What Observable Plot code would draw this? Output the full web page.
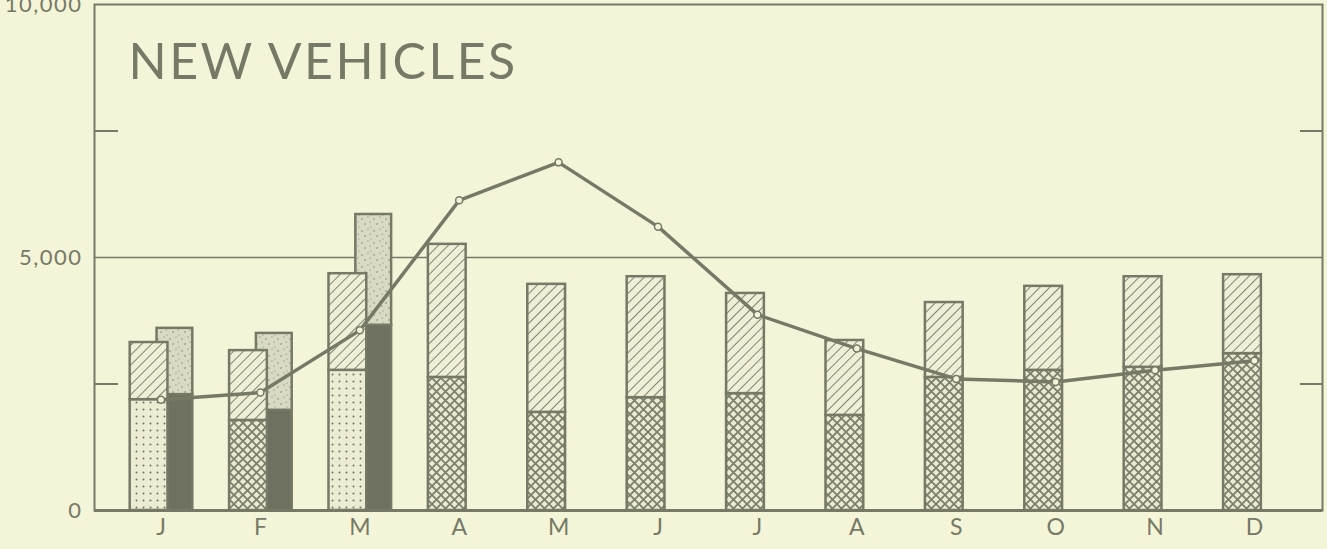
<!DOCTYPE html>
<html><head><meta charset="utf-8">
<script src="https://cdn.jsdelivr.net/npm/d3@7"></script>
<script src="https://cdn.jsdelivr.net/npm/@observablehq/plot@0.6"></script>
<style>
html,body{margin:0;padding:0;background:#f4f5d8;overflow:hidden}
#chart svg{display:block}
g[aria-label="y-axis tick label"] text{letter-spacing:1.5px}
</style></head><body><div id="chart"></div>
<script>
// ---- data ----
const months = ["J","F","M","A","M","J","J","A","S","O","N","D"];
// main (left / single) bar: total height and lower segment
const totalA = [3320,3160,4680,5260,4470,4620,4290,3360,4110,4430,4620,4660];
const baseA  = [2190,1780,2770,2630,1940,2230,2310,1880,2630,2770,2830,3100];
const baseKind = ["dotted","crosshatch","dotted","crosshatch","crosshatch","crosshatch","crosshatch","crosshatch","crosshatch","crosshatch","crosshatch","crosshatch"];
// second bar (J, F, M only)
const totalB = [3600,3500,5850];
const baseB  = [2290,1980,3660];
// line series
const lineVals = [2190,2330,3560,6130,6880,5610,3870,3200,2600,2540,2770,2960];
const yTicks = [0,5000,10000];
const minorTicks = [2500,7500];
const title = "NEW VEHICLES";

// ---- layout ----
const W=1327,H=549,mL=94,mR=5,mT=4,mB=39;
const plotW=W-mL-mR;
const ink="#767966", bg="#f4f5d8";
const idx = months.map((_,i)=>i);
const barOff=-0.12, barHalf=0.19, bOff=0.14, bHalf=0.18;
const single = idx.map(i=>({x1:i+barOff-barHalf, x2:i+barOff+barHalf, base:baseA[i], total:totalA[i], kind:baseKind[i]}));
const pair = totalB.map((t,i)=>({x1:i+bOff-bHalf, x2:i+bOff+bHalf, base:baseB[i], total:t}));
const fills = {dotted:"url(#dots)", crosshatch:"url(#cross)"};

const chart = Plot.plot({
  width:W, height:H, marginLeft:mL, marginRight:mR, marginTop:mT, marginBottom:mB,
  style:{background:bg, color:ink, fontFamily:"Lato, sans-serif", overflow:"visible"},
  x:{domain:[-0.669,11.685], axis:null},
  y:{domain:[0,10000], axis:null},
  color:{type:"identity"},
  marks:[
    Plot.ruleY([5000], {stroke:ink, strokeWidth:1.5}),
    Plot.tickY(minorTicks, {y:d=>d, insetRight:plotW-24, stroke:ink, strokeWidth:2}),
    Plot.tickY(minorTicks, {y:d=>d, insetLeft:plotW-22, stroke:ink, strokeWidth:2}),
    Plot.rectY(pair, {x1:"x1", x2:"x2", y1:0, y2:"base", fill:"#6e7160", stroke:ink, strokeWidth:2.5}),
    Plot.rectY(pair, {x1:"x1", x2:"x2", y1:"base", y2:"total", fill:"url(#stipple)", stroke:ink, strokeWidth:2.5}),
    Plot.rectY(single, {x1:"x1", x2:"x2", y1:0, y2:"base", fill:d=>fills[d.kind], stroke:ink, strokeWidth:2.5}),
    Plot.rectY(single, {x1:"x1", x2:"x2", y1:"base", y2:"total", fill:"url(#hatch)", stroke:ink, strokeWidth:2.5}),
    Plot.line(lineVals, {x:(d,i)=>i, y:d=>d, stroke:ink, strokeWidth:3.5}),
    Plot.dot(lineVals, {x:(d,i)=>i, y:d=>d, r:3.5, fill:bg, stroke:ink, strokeWidth:1.5}),
    Plot.frame({stroke:ink, strokeWidth:2}),
    Plot.ruleY([0], {stroke:ink, strokeWidth:3}),
    Plot.axisX({ticks:idx, tickFormat:i=>months[i], tickSize:0, tickPadding:8, fontSize:23}),
    Plot.axisY({ticks:yTicks, tickFormat:d3.format(","), tickSize:0, tickPadding:12, fontSize:22}),
    Plot.text([title], {frameAnchor:"top-left", dx:34, dy:39, fontSize:50, lineAnchor:"top", textAnchor:"start", fill:ink})
  ]
});

d3.select(chart).selectAll("text").filter(function(){ return this.textContent === title; }).attr("letter-spacing", "2.5px");

d3.select(chart).insert("defs", ":first-child").html(`
<pattern id="hatch" width="7" height="7" patternUnits="userSpaceOnUse" patternTransform="rotate(45)">
  <rect width="7" height="7" fill="#eeefd6"/>
  <line x1="0" y1="0" x2="0" y2="7" stroke="#80836f" stroke-width="2"/>
</pattern>
<pattern id="cross" width="9" height="9" patternUnits="userSpaceOnUse">
  <rect width="9" height="9" fill="#e9ead0"/>
  <path d="M0,0L9,9M9,0L0,9" stroke="#7c7f6b" stroke-width="1.8"/>
</pattern>
<pattern id="dots" width="7" height="7" patternUnits="userSpaceOnUse">
  <rect width="7" height="7" fill="#ebecd2"/>
  <circle cx="3.5" cy="3.5" r="1" fill="#6f7262"/>
</pattern>
<pattern id="stipple" width="12" height="12" patternUnits="userSpaceOnUse">
  <rect width="12" height="12" fill="#d9dac3"/>
  <circle cx="2" cy="3" r="0.7" fill="#6f7262"/>
  <circle cx="8" cy="1" r="0.6" fill="#6f7262"/>
  <circle cx="5" cy="8" r="0.7" fill="#6f7262"/>
  <circle cx="10" cy="6" r="0.6" fill="#6f7262"/>
  <circle cx="11" cy="11" r="0.5" fill="#6f7262"/>
</pattern>`);

document.getElementById("chart").appendChild(chart);
</script></body></html>
